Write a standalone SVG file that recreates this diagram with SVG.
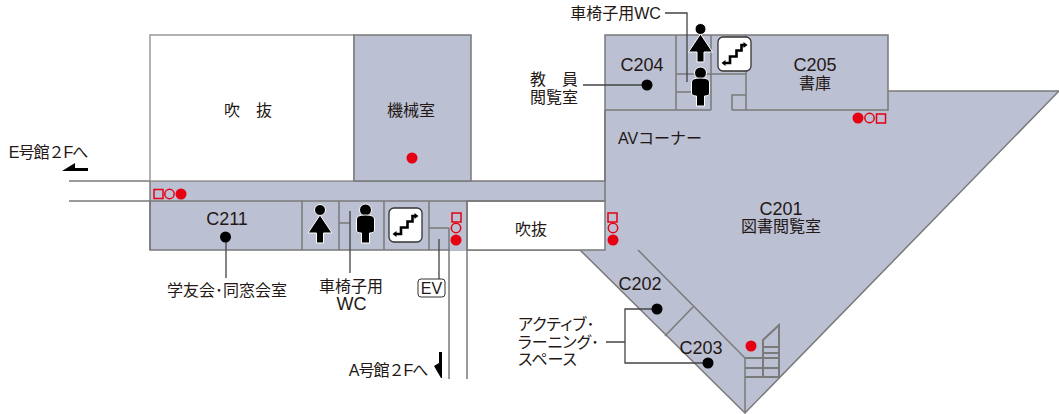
<svg xmlns="http://www.w3.org/2000/svg" width="1059" height="414" viewBox="0 0 1059 414">
<style>
text{font-family:"Liberation Sans","Noto Sans CJK JP",sans-serif;font-size:16px;fill:#231815;text-anchor:middle}
.c{font-size:18px}
.s{letter-spacing:-1px}
.p{text-anchor:start;font-feature-settings:"palt"}
.r{fill:#bcc0d3;stroke:#7a7a7a;stroke-width:1.5}
.w{fill:#fff;stroke:#999;stroke-width:1.5}
.l{fill:none;stroke:#7a7a7a;stroke-width:1.5}
.st{fill:none;stroke:#7a7a7a;stroke-width:2}
.k{fill:none;stroke:#444;stroke-width:1.3}
.d{fill:#000}
.rd{fill:#e60012}
.ro{fill:none;stroke:#e60012;stroke-width:1.5}
</style>
<defs>
<g id="man"><circle cx="0" cy="-15" r="5.500" fill="#000" stroke="#fff"/><path d="M0-10L-12 8H-3.500V18H3.500V8H12Z" fill="#000" stroke="#fff"/></g>
<g id="woman"><circle cx="0" cy="-15" r="6" fill="#000" stroke="#fff"/><path d="M-9-6Q-9-10 0-10Q9-10 9-6V5Q9 8 4 8V18H-4V8Q-9 8-9 5Z" fill="#000" stroke="#fff"/></g>
<g id="stair"><rect x="-16.500" y="-17" width="33" height="34" rx="5" fill="#fff" stroke="#333" stroke-width="1.300"/><path d="M-11 9H-4.500V2.500H2V-3.500H7V-9H10" fill="none" stroke="#000" stroke-width="2.600"/><path d="M13-9L9-12V-6ZM-13 9L-9 6V12Z" fill="#000"/></g>
</defs>
<g id="floor">
<path class="r" d="M605 35H888V91H1059L745 413L580 250H150V181H605Z"/>
<rect class="w" x="150" y="35" width="204" height="146"/>
<rect class="r" x="354" y="35" width="117" height="146"/>
<path fill="#fff" stroke="#7a7a7a" stroke-width="1.500" d="M467 250V201H605V250H580"/>
<rect x="450" y="249" width="16.300" height="1.800" fill="#bcc0d3"/>
<path class="l" d="M449 228V379M467 201V379M69 181H150M69 201H605V181M467 250H580"/>
</g>
<g id="connectors">
<path class="l" d="M150 201V250M302 201V250M339 201V250M384 201V250M429 201V250M429 228H449M339 223H350"/>
<path class="l" d="M676 35V110M605 110H676M676 74H746M676 92H711M711 35V110M676 110H711M746 35V110M732 110V95H746M732 110H888V91"/>
<path class="l" d="M605 110V181M638 250L745 358V413M693 307L665 336"/>
<path class="st" d="M763 378V340L779 325V378M763 347H779M763 353H779M745 358H779M745 368H779M745 377H779"/>
<path class="k" d="M665 13H687V82M583 85H647M226 237V278M350 211V273M439 239V279M606 342H625M657 309H625V363H708"/>
</g>
<g id="void1"><text x="248" y="116">吹　抜</text></g>
<g id="void2"><text x="531" y="235">吹抜</text></g>
<g id="machine"><text x="411" y="116">機械室</text><circle class="rd" cx="412" cy="158" r="5.500"/></g>
<g id="c204"><text class="c" x="642" y="71">C204</text><circle class="d" cx="647" cy="85" r="5.500"/></g>
<g id="c205"><text class="c" x="815" y="71">C205</text><text x="815" y="89">書庫</text></g>
<g id="av"><text x="660" y="144">AVコーナー</text></g>
<g id="c201"><text class="c" x="781" y="215">C201</text><text x="781" y="232">図書閲覧室</text></g>
<g id="c211"><text class="c" x="227" y="225">C211</text><circle class="d" cx="225.500" cy="237" r="5.500"/></g>
<g id="c202"><text class="c" x="640" y="290">C202</text><circle class="d" cx="657" cy="309" r="5.500"/></g>
<g id="c203"><text class="c" x="701" y="354">C203</text><circle class="d" cx="708" cy="363" r="5.500"/></g>
<g id="wc-left"><use href="#man" x="320" y="225"/><use href="#woman" x="365.500" y="225"/><use href="#stair" x="405.500" y="225"/></g>
<g id="wc-top"><use href="#man" x="700.500" y="44"/><use href="#woman" x="700.500" y="88"/><use href="#stair" x="734.500" y="54"/></g>
<g id="marks-corridor"><rect class="ro" x="154" y="189.500" width="9" height="9"/><circle class="ro" cx="169.500" cy="194" r="4.700"/><circle class="rd" cx="181" cy="194" r="5.500"/></g>
<g id="marks-mid"><rect class="ro" x="452" y="213" width="9" height="9"/><circle class="ro" cx="456" cy="228" r="4.700"/><circle class="rd" cx="456" cy="240" r="5.500"/></g>
<g id="marks-right"><rect class="ro" x="608" y="213" width="9" height="9"/><circle class="ro" cx="613" cy="228" r="4.700"/><circle class="rd" cx="613" cy="240" r="5.500"/></g>
<g id="marks-top"><circle class="rd" cx="858" cy="118" r="5.500"/><circle class="ro" cx="869.500" cy="118" r="4.700"/><rect class="ro" x="876.500" y="114" width="9" height="9"/></g>
<circle class="rd" cx="751" cy="346" r="5.500"/>
<g id="lbl-wc1"><text x="615.500" y="19">車椅子用WC</text></g>
<g id="lbl-staff"><text x="554" y="85">教　員</text><text x="554" y="103">閲覧室</text></g>
<g id="lbl-e"><text class="s" x="48" y="158">E号館２Fへ</text><path d="M62 171L75 163V168H88V171Z" fill="#000"/></g>
<g id="lbl-gakuyu"><text x="227" y="296">学友会･同窓会室</text></g>
<g id="lbl-wc2"><text x="351" y="292">車椅子用</text><text class="c" x="351.500" y="310">WC</text></g>
<g id="lbl-ev"><rect x="418" y="279" width="27" height="18" rx="3" fill="#fff" stroke="#333" stroke-width="1"/><text x="431.500" y="294">EV</text></g>
<g id="lbl-a"><text class="s" x="388" y="376">A号館２Fへ</text><path d="M439 352H442V378H441L434 366L439 363Z" fill="#000"/></g>
<g id="lbl-active"><text class="p" x="518" y="330">アクティブ･</text><text class="p" x="518" y="348">ラーニング･</text><text class="p" x="518" y="365">スペース</text></g>
</svg>
